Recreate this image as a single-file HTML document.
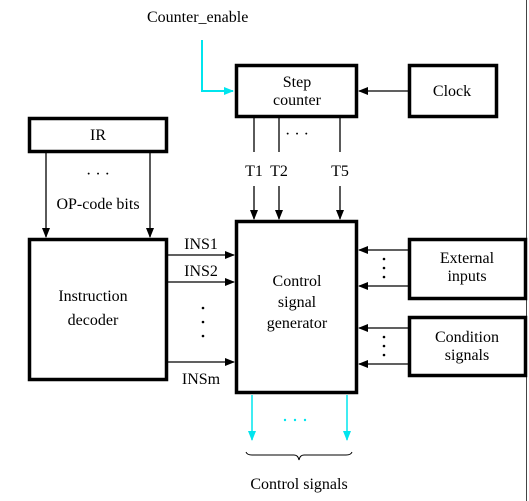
<!DOCTYPE html>
<html><head><meta charset="utf-8"><style>
html,body{margin:0;padding:0;background:#fff;}
svg{display:block;}
text{font-family:"Liberation Serif",serif;font-size:16px;fill:#000;}
</style></head><body>
<svg width="529" height="501" viewBox="0 0 529 501" xmlns="http://www.w3.org/2000/svg">
<defs>
<marker id="a" markerWidth="10" markerHeight="8" refX="9" refY="4" orient="auto" markerUnits="userSpaceOnUse"><path d="M0,0 L10,4 L0,8 z" fill="#000"/></marker>
<marker id="c" markerWidth="10" markerHeight="8" refX="9" refY="4" orient="auto" markerUnits="userSpaceOnUse"><path d="M0,0 L10,4 L0,8 z" fill="#00e5ee"/></marker>
</defs>
<line x1="526.5" y1="0" x2="526.5" y2="501" stroke="#444" stroke-width="1"/>
<g fill="#fff" stroke="#000" stroke-width="3.5">
<rect x="236.5" y="65.5" width="120" height="51"/>
<rect x="409.5" y="65.5" width="87" height="51"/>
<rect x="29.5" y="118.5" width="137" height="33"/>
<rect x="29.5" y="239.5" width="137" height="140"/>
<rect x="236.5" y="221.5" width="120" height="171"/>
<rect x="409.5" y="239.5" width="116" height="59"/>
<rect x="409.5" y="317.5" width="116" height="58"/>
</g>
<text x="147" y="22">Counter_enable</text>
<polyline points="202,40 202,91 233,91" fill="none" stroke="#00e5ee" stroke-width="2" marker-end="url(#c)"/>
<text x="297" y="87" text-anchor="middle">Step</text>
<text x="297" y="105" text-anchor="middle">counter</text>
<text x="452" y="96" text-anchor="middle">Clock</text>
<text x="98" y="140" text-anchor="middle">IR</text>
<line x1="408" y1="91" x2="359" y2="91" stroke="#000" stroke-width="1.3" marker-end="url(#a)"/>
<g stroke="#000" stroke-width="1.3">
<line x1="254" y1="118" x2="254" y2="152"/><line x1="279" y1="118" x2="279" y2="152"/><line x1="340" y1="118" x2="340" y2="152"/>
<line x1="254" y1="186" x2="254" y2="219" marker-end="url(#a)"/><line x1="279" y1="186" x2="279" y2="219" marker-end="url(#a)"/><line x1="340" y1="186" x2="340" y2="219" marker-end="url(#a)"/>
<line x1="46" y1="153" x2="46" y2="237" marker-end="url(#a)"/><line x1="150" y1="153" x2="150" y2="237" marker-end="url(#a)"/>
<line x1="168" y1="255" x2="234" y2="255" marker-end="url(#a)"/>
<line x1="168" y1="282" x2="234" y2="282" marker-end="url(#a)"/>
<line x1="168" y1="362" x2="234" y2="362" marker-end="url(#a)"/>
<line x1="408" y1="250" x2="359" y2="250" marker-end="url(#a)"/>
<line x1="408" y1="286" x2="359" y2="286" marker-end="url(#a)"/>
<line x1="408" y1="328" x2="359" y2="328" marker-end="url(#a)"/>
<line x1="408" y1="364" x2="359" y2="364" marker-end="url(#a)"/>
</g>
<text x="297" y="139" text-anchor="middle">· · ·</text>
<text x="254" y="176" text-anchor="middle">T1</text>
<text x="279" y="176" text-anchor="middle">T2</text>
<text x="340" y="176" text-anchor="middle">T5</text>
<text x="98" y="179" text-anchor="middle">· · ·</text>
<text x="98" y="209" text-anchor="middle">OP-code bits</text>
<text x="93" y="301" text-anchor="middle">Instruction</text>
<text x="93" y="325" text-anchor="middle">decoder</text>
<text x="201" y="249" text-anchor="middle">INS1</text>
<text x="201" y="276" text-anchor="middle">INS2</text>
<text x="201" y="384" text-anchor="middle">INSm</text>
<g fill="#000"><circle cx="203" cy="308" r="1.3"/><circle cx="203" cy="322" r="1.3"/><circle cx="203" cy="336" r="1.3"/>
<circle cx="384" cy="259" r="1.3"/><circle cx="384" cy="268" r="1.3"/><circle cx="384" cy="277" r="1.3"/>
<circle cx="384" cy="337" r="1.3"/><circle cx="384" cy="346" r="1.3"/><circle cx="384" cy="355" r="1.3"/></g>
<text x="297" y="286" text-anchor="middle">Control</text>
<text x="297" y="307" text-anchor="middle">signal</text>
<text x="297" y="328" text-anchor="middle">generator</text>
<text x="467" y="263" text-anchor="middle">External</text>
<text x="467" y="281" text-anchor="middle">inputs</text>
<text x="467" y="342" text-anchor="middle">Condition</text>
<text x="467" y="360" text-anchor="middle">signals</text>
<line x1="252" y1="395" x2="252" y2="440" stroke="#00e5ee" stroke-width="1.5" marker-end="url(#c)"/>
<line x1="347" y1="395" x2="347" y2="440" stroke="#00e5ee" stroke-width="1.5" marker-end="url(#c)"/>
<g fill="#00e5ee"><circle cx="285" cy="420" r="1.2"/><circle cx="295" cy="420" r="1.2"/><circle cx="305" cy="420" r="1.2"/></g>
<path d="M246,452 Q247,455 252,455 L294,455 Q298,455 299,460 Q300,455 304,455 L346,455 Q351,455 352,452" fill="none" stroke="#000" stroke-width="1"/>
<text x="299" y="489" text-anchor="middle">Control signals</text>
</svg>
</body></html>
